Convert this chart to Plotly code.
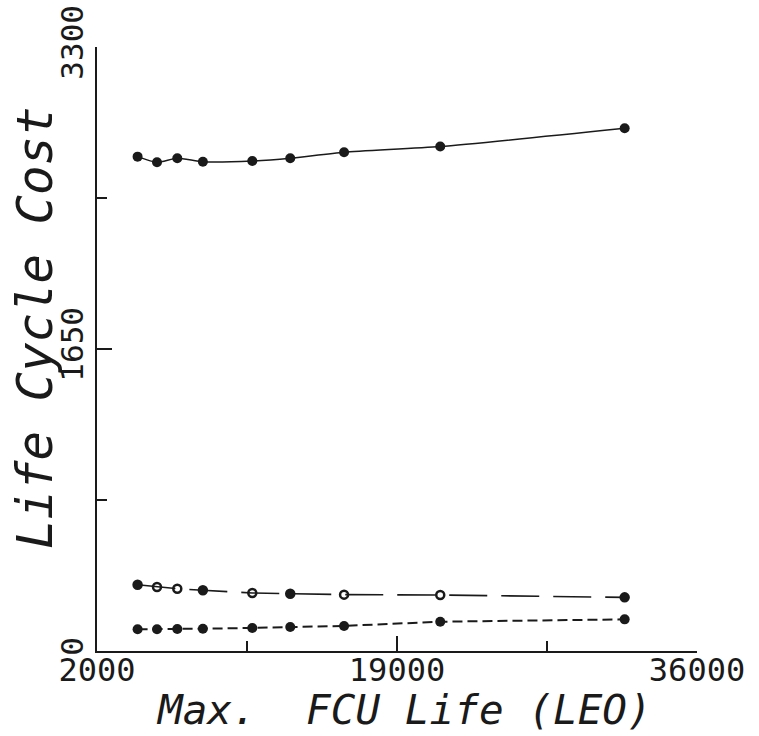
import plotly.graph_objects as go

# Data
fcu_life = [4300, 5400, 6550, 8000, 10800, 12950, 16000, 21450, 31900]
cost_top = [2701, 2670, 2692, 2673, 2677, 2692, 2725, 2756, 2856]
cost_mid = [362, 350, 340, 332, 317, 313, 308, 306, 293]
cost_low = [119, 119, 120, 122, 126, 131, 137, 160, 173]
mid_symbols = ["circle", "circle-open", "circle-open", "circle", "circle-open",
               "circle", "circle-open", "circle-open", "circle"]

x_tickvals = [2000, 19000, 36000]
x_ticktext = ["2000", "19000", "36000"]
y_tickvals = [0, 1650, 3300]
y_ticktext = ["0", "1650", "3300"]

INK = "#1a1a1a"
FONT = "DejaVu Sans Mono"

fig = go.Figure()
fig.add_trace(go.Scatter(
    x=fcu_life, y=cost_top, mode="lines+markers",
    line=dict(color=INK, width=1.5, shape="spline", smoothing=0.6),
    marker=dict(symbol="circle", size=10, color=INK),
))
fig.add_trace(go.Scatter(
    x=fcu_life, y=cost_mid, mode="lines+markers",
    line=dict(color=INK, width=1.6, dash="38px,14px"),
    marker=dict(symbol=mid_symbols, size=8, color=INK,
                line=dict(color=INK, width=2.5)),
))
fig.add_trace(go.Scatter(
    x=fcu_life, y=cost_low, mode="lines+markers",
    line=dict(color=INK, width=2, dash="10px,5px"),
    marker=dict(symbol="circle", size=10, color=INK),
))

fig.update_layout(
    width=759, height=736,
    margin=dict(l=97, r=62, t=47, b=85, autoexpand=False),
    paper_bgcolor="white", plot_bgcolor="white",
    showlegend=False,
    font=dict(family=FONT, color=INK),
    xaxis=dict(
        range=[2000, 36000], showgrid=False, zeroline=False, automargin=False,
        showline=True, linecolor=INK, linewidth=1.5,
        tickmode="array", tickvals=x_tickvals, ticktext=x_ticktext,
        ticks="inside", ticklen=15, tickwidth=1.5, tickcolor=INK,
        ticklabelstandoff=-10, ticklabeloverflow="allow",
        tickfont=dict(family=FONT, size=32, color=INK),
        minor=dict(tick0=2000, dtick=8500, ticks="inside", ticklen=10,
                   tickwidth=1.5, tickcolor=INK),
    ),
    yaxis=dict(
        range=[0, 3300], showgrid=False, zeroline=False, automargin=False,
        showline=True, linecolor=INK, linewidth=1.5,
        tickmode="array", tickvals=y_tickvals, ticktext=y_ticktext,
        ticks="inside", ticklen=15, tickwidth=1.5, tickcolor=INK,
        tickangle=-90, ticklabeloverflow="allow",
        tickfont=dict(family=FONT, size=31, color=INK),
        minor=dict(tick0=0, dtick=825, ticks="inside", ticklen=10,
                   tickwidth=1.5, tickcolor=INK),
    ),
    annotations=[
        dict(text="<i>Max.  FCU Life (LEO)</i>", xref="paper", yref="paper",
             x=(404 - 97) / 600, y=-(735 - 651) / 604, xanchor="center",
             yanchor="bottom", showarrow=False, borderpad=0,
             font=dict(family=FONT, size=41, color=INK)),
        dict(text="<i>Life Cycle Cost</i>", xref="paper", yref="paper",
             x=(35 - 97) / 600, y=(651 - 328) / 604, xanchor="center",
             yanchor="middle", textangle=-90, showarrow=False,
             font=dict(family=FONT, size=49, color=INK)),
    ],
)

fig.write_html("out.html", config={"displayModeBar": False},
               post_script="document.body.style.margin='0px';")
